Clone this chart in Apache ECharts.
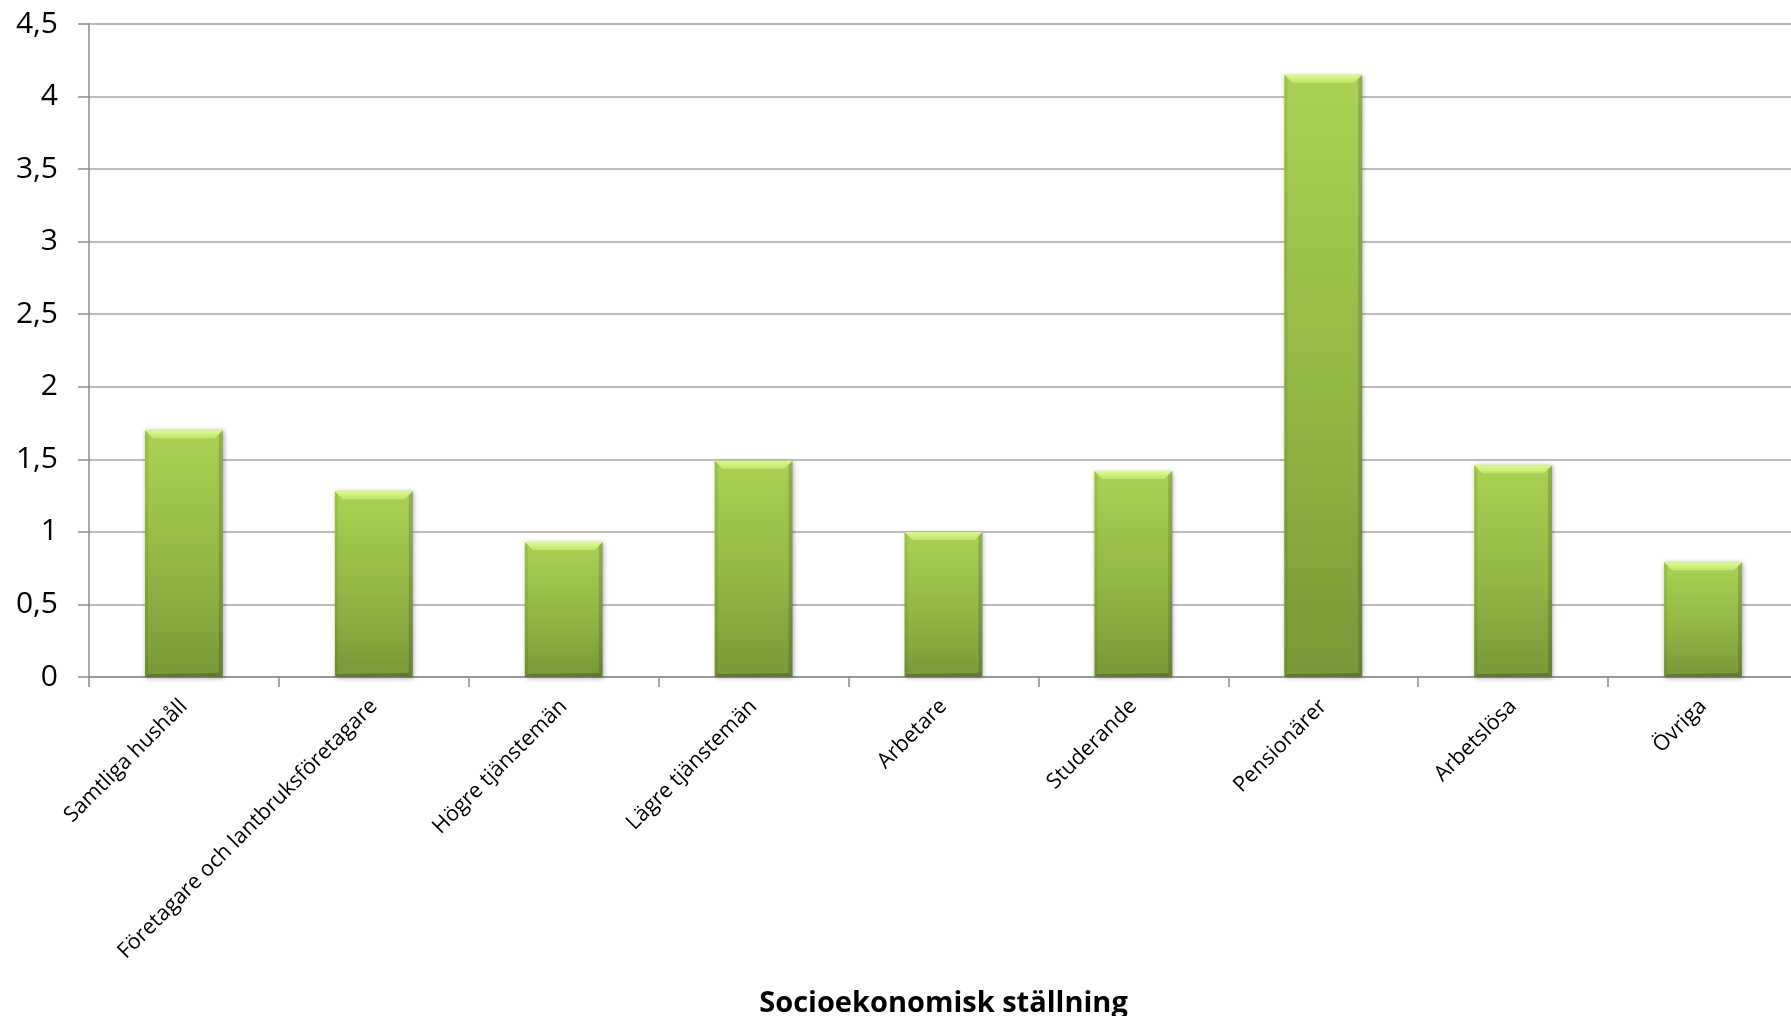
<!DOCTYPE html>
<html><head><meta charset="utf-8">
<script src="https://cdn.jsdelivr.net/npm/echarts@6/dist/echarts.min.js"></script>
<style>html,body{margin:0;padding:0;background:#fff}#c{width:1791px;height:1016px}</style>
</head><body><div id="c"></div>
<script>
const categories = ["Samtliga hushåll","Företagare och lantbruksföretagare","Högre tjänstemän","Lägre tjänstemän","Arbetare","Studerande","Pensionärer","Arbetslösa","Övriga"];
const values = [1.70, 1.28, 0.93, 1.49, 1.00, 1.42, 4.15, 1.46, 0.79];
const axisTitle = "Socioekonomisk ställning";

const chart = echarts.init(document.getElementById('c'), null, {renderer:'canvas'});
const FONT = "'Open Sans', 'Noto Sans', sans-serif";

function renderBar(params, api){
  const xi = api.value(0), v = api.value(1);
  const top = api.coord([xi, v]);
  const bot = api.coord([xi, 0]);
  const bw = api.size([1,0])[0]*0.41;
  const l = top[0]-bw/2, r = top[0]+bw/2, t = top[1], b = bot[1];
  const bv = 8;
  return {type:'group', children:[
    {type:'rect', shape:{x:l,y:t,width:bw,height:b-t}, style:{
      fill:new echarts.graphic.LinearGradient(0,0,0,1,[{offset:0,color:'#a9d253'},{offset:0.5,color:'#94ba46'},{offset:1,color:'#789938'}]),
      shadowBlur:5, shadowColor:'rgba(0,0,0,0.35)', shadowOffsetX:1, shadowOffsetY:1}},
    {type:'polygon', shape:{points:[[l,t],[r,t],[r-bv,t+bv],[l+bv,t+bv]]}, style:{
      fill:new echarts.graphic.LinearGradient(0,0,0,1,[{offset:0,color:'#dcf99a'},{offset:1,color:'#c0e56a'}])}},
    {type:'polygon', shape:{points:[[l,t],[l+3,t+3],[l+3,b-3],[l,b]]}, style:{fill:'rgba(0,0,0,0.08)'}},
    {type:'polygon', shape:{points:[[r,t],[r-4,t+4],[r-4,b-4],[r,b]]}, style:{fill:'rgba(0,0,0,0.15)'}},
    {type:'polygon', shape:{points:[[l,b],[l+3,b-3],[r-4,b-4],[r,b]]}, style:{fill:'rgba(0,0,0,0.2)'}}
  ]};
}

chart.setOption({
  animation:false,
  backgroundColor:'#ffffff',
  grid:{left:89, top:24, bottom:339, width:1709, containLabel:false, outerBoundsMode:'none'},
  xAxis:{
    type:'category', data:categories,
    axisLine:{lineStyle:{color:'#8c8c8c', width:1.5}},
    axisTick:{show:true, length:10, lineStyle:{color:'#8c8c8c', width:1.5}},
    axisLabel:{rotate:45, margin:26, color:'#000', fontFamily:FONT, fontSize:21.5, interval:0},
    name:axisTitle, nameLocation:'middle', nameGap:312,
    nameTextStyle:{fontFamily:FONT, fontWeight:'bold', fontSize:29, color:'#000'}
  },
  yAxis:{
    type:'value', min:0, max:4.5, interval:0.5,
    axisLine:{show:true, lineStyle:{color:'#8c8c8c', width:1.5}},
    axisTick:{show:true, length:11, lineStyle:{color:'#8c8c8c', width:1.5}},
    splitLine:{lineStyle:{color:'#a6a6a6', width:1.5}},
    axisLabel:{margin:31, color:'#000', fontFamily:FONT, fontSize:30,
      formatter:v=>String(v).replace('.',',')}
  },
  series:[{
    type:'custom', renderItem:renderBar,
    data:values.map((v,i)=>[i,v]),
    encode:{x:0,y:1}, clip:false, z:3
  }]
});
</script></body></html>
